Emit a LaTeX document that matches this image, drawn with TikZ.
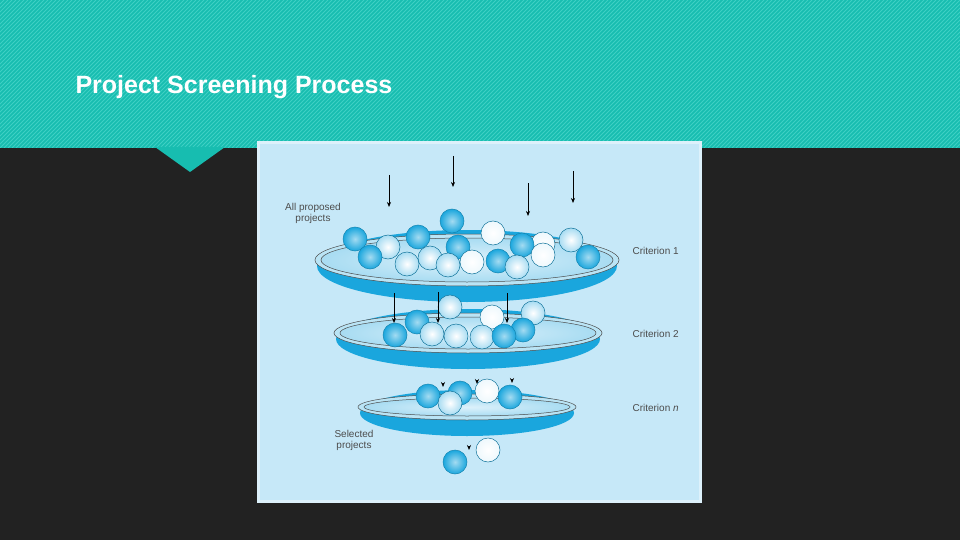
\documentclass[tikz,border=0pt]{standalone}
\usepackage{fontspec}
\setmainfont{Liberation Sans}
\usetikzlibrary{arrows.meta}
\definecolor{teal1}{HTML}{17BDB0}
\definecolor{teal2}{HTML}{3FD0C4}
\definecolor{dark}{HTML}{222222}
\definecolor{panel}{HTML}{C6E8F8}
\definecolor{pborder}{HTML}{DDF1FB}
\definecolor{bdark}{HTML}{1AA6DD}
\definecolor{blight}{HTML}{A8DCF2}
\tikzset{
  dball/.style={draw=bdark!80!black,line width=0.5pt,inner color=white!60!bdark,outer color=bdark},
  lball/.style={draw=bdark!70!black,line width=0.5pt,inner color=white,outer color=blight},
  wball/.style={draw=bdark!70!black,line width=0.5pt,inner color=white,outer color=white!80!blight},
  arr/.style={-{Stealth[length=5pt,width=4pt]},line width=0.7pt,black},
  lbl/.style={font=\fontsize{10}{11}\selectfont,text=black!70,align=center}
}
\newcommand{\plate}[4]{% cx cy rx ry
  \fill[bdark] (#1,#2+6) ellipse ({#3-2} and {#4+10});
  \fill[white!70!bdark] (#1,#2) ellipse ({#3} and {#4});
  \draw[black!70,line width=0.5pt] (#1,#2) ellipse ({#3} and {#4});
  \shade[inner color=panel!60!white,outer color=blight] (#1,#2) ellipse ({#3-6} and {#4-4});
  \draw[black!70,line width=0.5pt] (#1,#2) ellipse ({#3-6} and {#4-4});
}
\newcommand{\ball}[3]{\path[#1] (#2,#3) circle (12);}
\begin{document}
\begin{tikzpicture}[x=1pt,y=-1pt]
\useasboundingbox (0,0) rectangle (960,540);
\fill[dark] (0,0) rectangle (960,540);
\fill[teal1] (0,0) rectangle (960,148);
\begin{scope}
\clip (0,0) rectangle (960,148);
\foreach \i in {-160,-156,...,960} \draw[teal2,line width=1pt] (\i,148) -- (\i+148,0);
\end{scope}
\fill[teal1] (155,147) -- (225,147) -- (190,172) -- cycle;
\node[anchor=west,text=white,font=\bfseries\fontsize{25}{30}\selectfont] (title) at (72,87) {Project Screening Process};
% panel
\fill[panel] (257,141) rectangle (702,503);
\draw[pborder,line width=3pt] (258.5,142.5) rectangle (700.5,501.5);
% plate 1
\plate{467}{260}{152}{26}
\foreach \s/\x/\y in {dball/452/221,wball/493/233,lball/571/240,dball/355/239,dball/418/237,wball/543/244,dball/522/245,lball/388/247,dball/458/247,wball/543/255,dball/588/257,dball/370/257,lball/430/258,dball/498/261,wball/472/262,lball/407/264,lball/448/265,lball/517/267}
  \ball{\s}{\x}{\y};
% plate 2
\plate{468}{333}{134}{20}
\foreach \s/\x/\y in {lball/450/307,lball/533/313,wball/492/317,dball/417/322,dball/523/330,dball/395/335,lball/432/334,lball/456/336,lball/482/337,dball/504/336}
  \ball{\s}{\x}{\y};
% plate n
\plate{467}{407}{109}{13}
\foreach \s/\x/\y in {wball/487/391,dball/460/393,dball/428/396,dball/510/397,lball/450/403}
  \ball{\s}{\x}{\y};
% selected
\ball{wball}{488}{450}
\ball{dball}{455}{462}
% arrows
\coordinate (a1s) at (389,175); \coordinate (a1e) at (389,207);
\coordinate (a2s) at (453,156); \coordinate (a2e) at (453,187);
\coordinate (a3s) at (528,183); \coordinate (a3e) at (528,216);
\coordinate (a4s) at (573,171); \coordinate (a4e) at (573,203);
\coordinate (b1s) at (394,293); \coordinate (b1e) at (394,323);
\coordinate (b2s) at (438,292); \coordinate (b2e) at (438,323);
\coordinate (b3s) at (507,293); \coordinate (b3e) at (507,323);
\foreach \n in {a1,a2,a3,a4,b1,b2,b3} \draw[arr] (\n s) -- (\n e);
\foreach \x/\y in {443/387,477/384,512/383,469/450}
  \draw[arr] (\x,\y-4) -- (\x,\y);
% labels
\node[lbl] (lap) at (313,213) {All proposed\\projects};
\node[lbl,anchor=west] (c1) at (629,251) {Criterion 1};
\node[lbl,anchor=west] (c2) at (629,334) {Criterion 2};
\node[lbl,anchor=west] (cn) at (629,408) {Criterion \textit{n}};
\node[lbl] (sel) at (354,440) {Selected\\projects};
\end{tikzpicture}
\end{document}
